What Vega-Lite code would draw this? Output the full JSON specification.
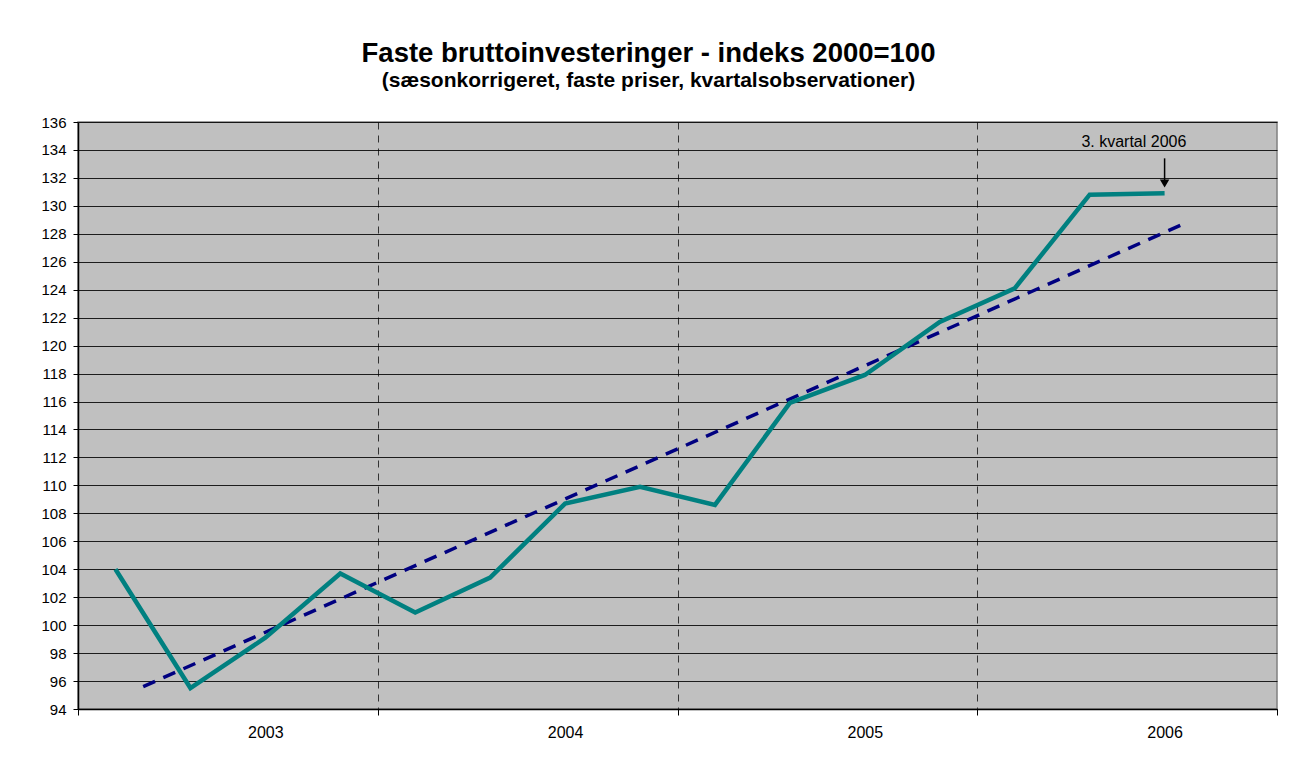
{
  "$schema": "https://vega.github.io/schema/vega-lite/v6.json",
  "autosize": "none",
  "width": 1199,
  "height": 587,
  "padding": {"left": 78, "top": 122, "right": 13, "bottom": 54},
  "background": "white",
  "title": {
    "text": "Faste bruttoinvesteringer - indeks 2000=100",
    "subtitle": "(sæsonkorrigeret, faste priser, kvartalsobservationer)",
    "font": "Liberation Sans",
    "subtitleFont": "Liberation Sans",
    "fontSize": 27.5,
    "subtitleFontSize": 21,
    "fontWeight": "bold",
    "subtitleFontWeight": "bold",
    "color": "black",
    "subtitleColor": "black",
    "anchor": "middle",
    "dx": -29,
    "offset": 24,
    "subtitlePadding": 3
  },
  "config": {
    "view": {"fill": "#C0C0C0", "stroke": "#808080", "strokeWidth": 1.5},
    "axis": {"labelFont": "Liberation Sans", "labelColor": "black"}
  },
  "datasets": {
    "serie": [
      {"kvartal": 1, "indeks": 104.0},
      {"kvartal": 2, "indeks": 95.5},
      {"kvartal": 3, "indeks": 99.1},
      {"kvartal": 4, "indeks": 103.7},
      {"kvartal": 5, "indeks": 100.9},
      {"kvartal": 6, "indeks": 103.4},
      {"kvartal": 7, "indeks": 108.7},
      {"kvartal": 8, "indeks": 109.9},
      {"kvartal": 9, "indeks": 108.6},
      {"kvartal": 10, "indeks": 115.9},
      {"kvartal": 11, "indeks": 117.9},
      {"kvartal": 12, "indeks": 121.7},
      {"kvartal": 13, "indeks": 124.1},
      {"kvartal": 14, "indeks": 130.8},
      {"kvartal": 15, "indeks": 130.9}
    ],
    "trend": [
      {"kvartal": 1.37, "indeks": 95.6},
      {"kvartal": 15.25, "indeks": 128.7}
    ],
    "pil": [
      {"kvartal": 15, "fra": 133.4, "til": 131.6, "tekst": "3. kvartal 2006", "tekstx": 14.59, "teksty": 134.55}
    ]
  },
  "encoding": {
    "x": {
      "field": "kvartal",
      "type": "quantitative",
      "scale": {"domain": [0.5, 16.5], "nice": false, "zero": false},
      "axis": {
        "title": null,
        "values": [0.5, 3, 4.5, 7, 8.5, 11, 12.5, 15, 16.5],
        "labelExpr": "datum.value % 4 == 3 ? '' + (2003 + (datum.value - 3) / 4) : ''",
        "labelFontSize": 16,
        "labelPadding": 9,
        "labelFlush": false,
        "labelOverlap": false,
        "domainColor": "black",
        "domainWidth": 1.5,
        "tickColor": "black",
        "tickSize": 6,
        "tickWidth": 1,
        "tickOpacity": {"condition": {"test": "datum.value % 4 == 0.5", "value": 1}, "value": 0},
        "grid": true,
        "gridColor": "#333333",
        "gridWidth": 1,
        "gridDash": [7, 6],
        "gridOpacity": {"condition": {"test": "datum.value % 4 == 0.5 && datum.value > 1 && datum.value < 16", "value": 1}, "value": 0}
      }
    },
    "y": {
      "field": "indeks",
      "type": "quantitative",
      "scale": {"domain": [94, 136], "nice": false, "zero": false},
      "axis": {
        "title": null,
        "values": [94, 96, 98, 100, 102, 104, 106, 108, 110, 112, 114, 116, 118, 120, 122, 124, 126, 128, 130, 132, 134, 136],
        "labelFontSize": 15,
        "labelPadding": 7,
        "domainColor": "black",
        "domainWidth": 1.5,
        "tickColor": "black",
        "tickSize": 5,
        "grid": true,
        "gridColor": "black",
        "gridWidth": 1,
        "gridOpacity": 0.85
      }
    }
  },
  "layer": [
    {
      "data": {"name": "trend"},
      "mark": {"type": "line", "color": "#000080", "strokeWidth": 3.5, "strokeDash": [13, 9], "clip": false}
    },
    {
      "data": {"name": "serie"},
      "mark": {"type": "line", "color": "#008080", "strokeWidth": 4.5, "clip": false}
    },
    {
      "data": {"name": "pil"},
      "mark": {"type": "rule", "color": "black", "strokeWidth": 1.5},
      "encoding": {
        "x": {"field": "kvartal", "type": "quantitative"},
        "y": {"field": "fra", "type": "quantitative"},
        "y2": {"field": "til"}
      }
    },
    {
      "data": {"name": "pil"},
      "mark": {"type": "point", "shape": "triangle-down", "filled": true, "color": "black", "size": 90, "opacity": 1},
      "encoding": {
        "x": {"field": "kvartal", "type": "quantitative"},
        "y": {"field": "til", "type": "quantitative"}
      }
    },
    {
      "data": {"name": "pil"},
      "mark": {"type": "text", "font": "Liberation Sans", "fontSize": 16, "color": "black", "align": "center", "baseline": "middle"},
      "encoding": {
        "x": {"field": "tekstx", "type": "quantitative"},
        "y": {"field": "teksty", "type": "quantitative"},
        "text": {"field": "tekst"}
      }
    }
  ]
}
